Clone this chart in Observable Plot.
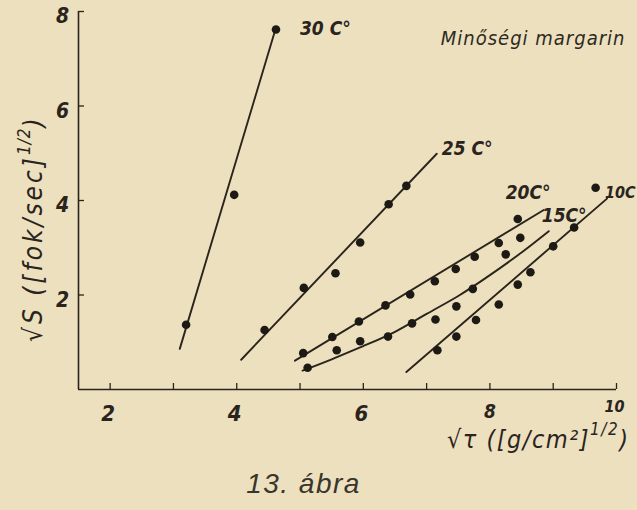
<!DOCTYPE html>
<html><head><meta charset="utf-8">
<script src="https://cdn.jsdelivr.net/npm/d3@7"></script>
<script src="https://cdn.jsdelivr.net/npm/@observablehq/plot@0.6"></script>
<style>
html,body{margin:0;padding:0;background:#ece0bf;}
#chart svg{display:block;}
</style></head><body><div id="chart"></div>
<script>
// ---- data ----
const seriesNames = ["30 C°", "25 C°", "20C°", "15C°", "10C"];
// measured points [√τ, √S]
const pts30 = [[3.20,1.37],[3.96,4.12],[4.62,7.62]];
const pts25 = [[4.44,1.26],[5.06,2.15],[5.56,2.46],[5.95,3.11],[6.40,3.92],[6.68,4.31]];
const pts20 = [[5.05,0.77],[5.51,1.11],[5.93,1.44],[6.35,1.78],[6.74,2.01],[7.13,2.29],[7.46,2.55],[7.76,2.81],[8.14,3.10],[8.44,3.61]];
const pts15 = [[5.12,0.46],[5.58,0.83],[5.95,1.02],[6.39,1.12],[6.77,1.40],[7.14,1.48],[7.47,1.76],[7.73,2.13],[8.25,2.86],[8.48,3.21]];
const pts10 = [[7.17,0.83],[7.47,1.12],[7.78,1.47],[8.14,1.80],[8.44,2.22],[8.64,2.48],[9.00,3.03],[9.33,3.43],[9.67,4.27]];
// drawn fit lines
const fit30 = [[3.10,0.86],[4.62,7.66]];
const fit25 = [[4.07,0.63],[7.16,4.99]];
const fit20 = [[4.92,0.61],[8.85,3.80]];
const fit15 = [[5.04,0.40],[5.5,0.64],[6.0,0.92],[6.5,1.22],[7.0,1.60],[7.5,1.98],[8.0,2.42],[8.5,2.90],[8.93,3.35]];
const fit10 = [[6.68,0.37],[9.85,4.04]];
// axes
const xTicks = [2,3,4,5,6,7,8,9,10];
const xTickLabels = [2,4,6,8,10];
const yTicks = [2,4,6,8];
const title = "Minőségi margarin";
const caption = "13. ábra";

const ink = "#2a241c";
const fitLines = [fit30, fit25, fit20, fit15, fit10];
const pointSets = [pts30, pts25, pts20, pts15, pts10];
const labelOffsets = [[24,1],[5,-5],[-38,-17],[-7,-15],[-2,-6]];
const labelSizes = [19,19,19,19,16];
const lblFont = "DejaVu Sans Condensed, DejaVu Sans, sans-serif";

const lineRows = fitLines.flatMap((f,i)=>f.map(([x,y])=>({x,y,s:seriesNames[i]})));
const pointRows = pointSets.flatMap((p,i)=>p.map(([x,y])=>({x,y,s:seriesNames[i]})));

function axisLabels(index, scales, values, dims) {
  const g = d3.create("svg:g").attr("fill", ink).attr("font-family", lblFont)
    .attr("font-style","italic").attr("text-anchor","start");
  // y label
  const ty = g.append("text").attr("transform","translate(42,342) rotate(-90)")
    .attr("font-size",26).style("letter-spacing","3px");
  ty.append("tspan").text("√S ([fok/sec]");
  ty.append("tspan").attr("dy",-12).attr("font-size",17).style("letter-spacing","1px").text("1/2");
  ty.append("tspan").attr("dy",12).text(")");
  // x label
  const tx = g.append("text").attr("transform","translate(447,448)")
    .attr("font-size",25).style("letter-spacing","1.5px");
  tx.append("tspan").text("√τ ([g/cm²]");
  tx.append("tspan").attr("dy",-13).attr("font-size",17).text("1/2");
  tx.append("tspan").attr("dy",13).text(")");
  return g.node();
}

const marks = [
  Plot.ruleY([0], {stroke: ink, strokeWidth: 1.6}),
  Plot.ruleX([1.5], {stroke: ink, strokeWidth: 1.6}),
  Plot.tickX(xTicks, {x: d=>d, insetTop: 372, stroke: ink, strokeWidth: 1.3}),
  Plot.tickY(yTicks, {y: d=>d, insetRight: 532, stroke: ink, strokeWidth: 1.3}),
  Plot.line(lineRows, {x:"x", y:"y", z:"s", stroke: ink, strokeWidth: 1.9, curve: "natural"}),
  Plot.dot(pointRows, {x:"x", y:"y", r: 4.3, fill: "#1d1914", stroke: "none"}),
  Plot.text(xTickLabels.filter(d=>d<=6), {x:d=>d, y:0, dy:24, dx:-2, text:d=>String(d), fontSize:22, fontStyle:"italic", fontWeight:"bold", fill: ink}),
  Plot.text([8], {x:d=>d, y:0, dy:22, dx:0, text:d=>String(d), fontSize:19, fontStyle:"italic", fontWeight:"bold", fill: ink}),
  Plot.text([10], {x:d=>d, y:0, dy:17, dx:-2, text:d=>String(d), fontSize:16, fontStyle:"italic", fontWeight:"bold", fill: ink}),
  Plot.text(yTicks, {x:1.5, y:d=>d, dx:-16, dy:5, text:d=>String(d), fontSize:21, fontStyle:"italic", fontWeight:"bold", fill: ink}),
  ...seriesNames.map((name,i)=>{
    const f = fitLines[i]; const end = f[f.length-1];
    return Plot.text([end], {x:d=>d[0], y:d=>d[1], text:()=>name, dx:labelOffsets[i][0], dy:labelOffsets[i][1], textAnchor:"start", fontSize:labelSizes[i], fontStyle:"italic", fontWeight:"bold", fill: ink});
  }),
  Plot.text([title], {frameAnchor:"top-right", dx:9, dy:19, textAnchor:"end", fontSize:20, fontStyle:"italic", fill:"#2e2a22"}),
  Plot.text([caption], {frameAnchor:"bottom", dx:-44, dy:103, fontSize:28, fontStyle:"italic", fontFamily:"Liberation Sans, Arial, sans-serif", fill:"#3a352c"}),
  axisLabels
];

const chart = Plot.plot({
  width: 637, height: 510,
  marginLeft: 78, marginRight: 21, marginTop: 11, marginBottom: 121,
  x: {domain: [1.5, 10], axis: null},
  y: {domain: [0, 8], axis: null},
  style: {background: "transparent", fontFamily: lblFont, overflow: "visible"},
  marks
});
chart.querySelectorAll("text").forEach(t => {
  if (t.textContent === caption) t.style.letterSpacing = "1.5px";
  if (t.textContent === title) t.style.letterSpacing = "1px";
});
document.getElementById("chart").append(chart);
</script></body></html>
